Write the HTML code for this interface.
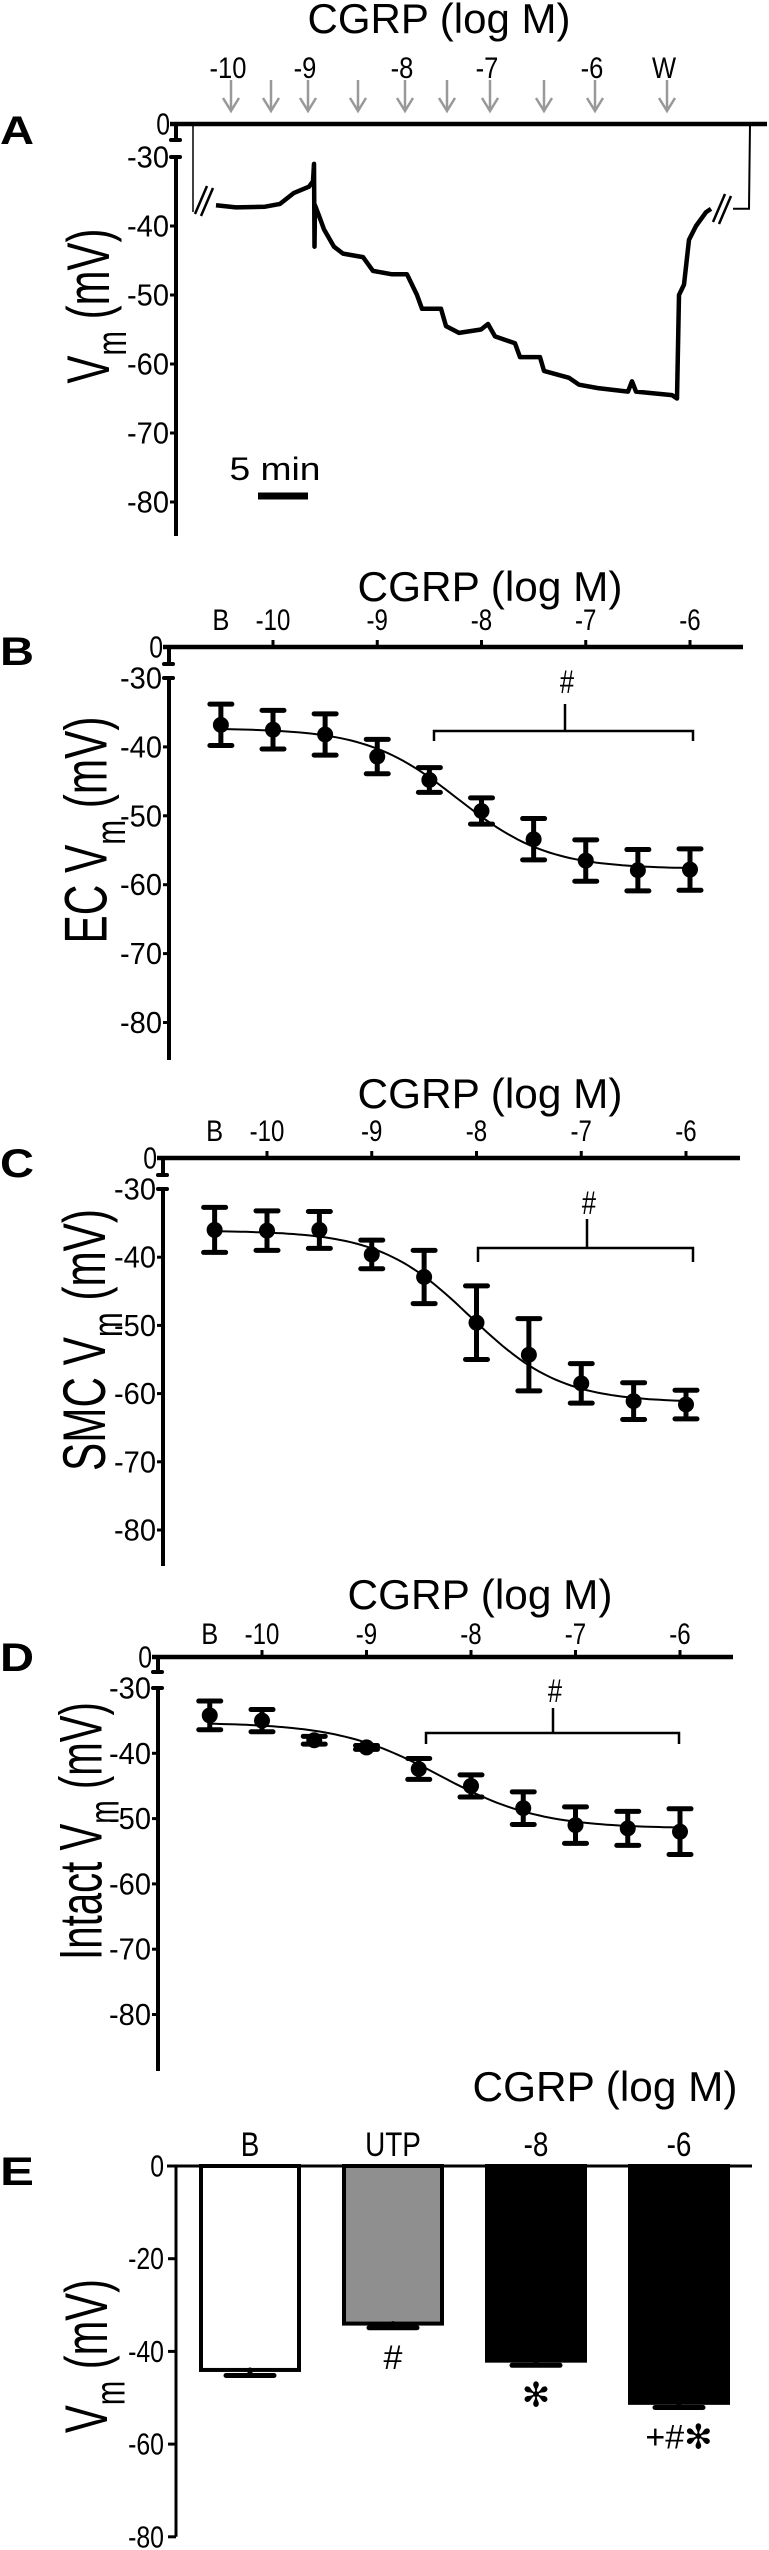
<!DOCTYPE html>
<html><head><meta charset="utf-8"><title>CGRP membrane potential</title>
<style>
html,body{margin:0;padding:0;background:#fff;}
svg{display:block;font-family:"Liberation Sans",Arial,sans-serif;}
</style></head>
<body>
<svg id="fig" xmlns="http://www.w3.org/2000/svg" width="769" height="2550" viewBox="0 0 769 2550">
<rect x="0" y="0" width="769" height="2550" fill="#fff"/>
</svg>
<script>
// ---------- DATA ----------
const traceTimes = [0,2,4.9,6.4,7.8,9.3,9.7,9.8,9.85,9.9,10.3,10.8,11.8,12.7,14.7,15.7,17.6,19.1,20.1,20.6,22.5,23.0,24.3,26.5,27.2,27.9,29.9,30.4,32.4,32.8,35.3,36.3,38.2,41.2,41.6,42.0,45.6,46.1,46.3,46.8,47.3,48.0,49.0,49.5];
const traceValues = [-37,-37.3,-37.2,-36.8,-35.2,-34.3,-33.5,-31,-43,-37,-38.5,-40.5,-43,-44,-44.5,-46.5,-47,-47,-50,-52,-52,-54.5,-55.5,-55,-54.2,-56,-57,-59,-59,-61,-62,-63,-63.5,-64,-62.5,-64,-64.5,-65,-50,-48.5,-42,-40,-38,-37.5];
const arrowTimes = [1.5,5.5,9.2,14.2,18.9,23.1,27.4,32.8,37.9,45.1];
const arrowLabels = ["-10","","-9","","-8","","-7","","-6","W"];
const yTicksA = [-30,-40,-50,-60,-70,-80];

const doseLogs = [-10.5,-10,-9.5,-9,-8.5,-8,-7.5,-7,-6.5,-6];
const xTickLogs = [-10,-9,-8,-7,-6];
const xTickLabels = ["-10","-9","-8","-7","-6"];
const ecMeans = [-36.8,-37.5,-38.2,-41.4,-44.8,-49.3,-53.4,-56.5,-57.9,-57.8];
const ecErrs = [3.0,2.8,3.0,2.5,1.8,1.9,3.0,3.0,3.0,3.0];
const smcMeans = [-36.0,-36.1,-36.0,-39.6,-42.9,-49.6,-54.3,-58.5,-61.1,-61.6];
const smcErrs = [3.3,2.9,2.7,2.1,3.9,5.4,5.3,2.9,2.7,2.1];
const intMeans = [-34.2,-35.0,-38.0,-39.1,-42.4,-45.0,-48.4,-51.0,-51.5,-52.0];
const intErrs = [2.2,1.7,0.6,0.3,1.6,1.7,2.5,2.8,2.6,3.5];
const fitTop = [-37.3,-36.1,-35.3];
const fitBottom = [-57.7,-61.3,-51.5];
const fitEC50 = [-8.23,-8.06,-8.3];
const fitHill = [1.0,1.0,0.9];
const yTicksCR = [-30,-40,-50,-60,-70,-80];

const eCategories = ["B","UTP","-8","-6"];
const eValues = [-44.0,-34.0,-42.0,-51.1];
const eErrors = [1.2,0.9,1.0,1.0];
const eSig = ["","#","✻","+#✻"];
const yTicksE = [0,-20,-40,-60,-80];

// ---------- helpers ----------
const NS = "http://www.w3.org/2000/svg";
const svg = document.getElementById('fig');
function mk(tag, attrs, parent){
  const e = document.createElementNS(NS, tag);
  for (const k in attrs) e.setAttribute(k, attrs[k]);
  (parent||svg).appendChild(e);
  return e;
}
function txt(str, attrs, parent){
  const e = mk('text', attrs, parent);
  e.textContent = str;
  return e;
}
function narrow(e, f){
  const L = e.getComputedTextLength();
  if (L > 0) { e.setAttribute('textLength', (L * f).toFixed(1)); e.setAttribute('lengthAdjust', 'spacingAndGlyphs'); }
  return e;
}
function group(name){
  const g = mk('g', {});
  
  
  return g;
}
function yLabel(g, cx, cy, len, prefix){
  const t = mk('text', {x:0, y:0, 'font-size':60, 'text-anchor':'middle', 'dominant-baseline':'central'}, g);
  
  
  t.appendChild(document.createTextNode(prefix + 'V'));
  const s = document.createElementNS(NS, 'tspan');
  s.setAttribute('font-size', '42');
  s.setAttribute('baseline-shift', 'sub');
  s.textContent = 'm';
  t.appendChild(s);
  t.appendChild(document.createTextNode('\u00a0(mV)'));
  const L = t.getComputedTextLength() || len;
  t.setAttribute('transform', 'translate(' + cx + ',' + cy + ') rotate(-90) scale(' + (len / L) + ',1)');
  return t;
}
function panelLetter(g, ch, y){
  const t = txt(ch, {x:0, y:y, 'font-size':40, 'font-weight':'bold', textLength:34, lengthAdjust:'spacingAndGlyphs'}, g);
  
  
}
function title(g, x, y, w){
  const t = txt('CGRP (log M)', {x:x, y:y, 'font-size':42, 'text-anchor':'middle', textLength:w, lengthAdjust:'spacingAndGlyphs'}, g);
  
  
}
function brokenYAxis(g, ax, zeroY, segEnd, y30, px10, bottom, ticks, topEnd){
  const top = mk('line', {x1:ax-6, y1:zeroY, x2:topEnd, y2:zeroY, stroke:'#000', 'stroke-width':4.5}, g);
  
  
  const seg = mk('line', {x1:ax, y1:zeroY, x2:ax, y2:segEnd, stroke:'#000', 'stroke-width':4}, g);
  
  
  mk('line', {x1:ax-5, y1:segEnd, x2:ax+4, y2:segEnd, stroke:'#000', 'stroke-width':4, 'stroke-linecap':'round'}, g);
  const main = mk('line', {x1:ax, y1:y30, x2:ax, y2:bottom, stroke:'#000', 'stroke-width':4}, g);
  
  
  mk('line', {x1:ax-5, y1:y30, x2:ax+4, y2:y30, stroke:'#000', 'stroke-width':4, 'stroke-linecap':'round'}, g);
  const z = txt('0', {x:ax-6, y:zeroY, 'font-size':31, 'text-anchor':'end', 'dominant-baseline':'central'}, g);
  
  
  narrow(z, 0.8);
  const yOf = v => y30 + (-30 - v) * px10 / 10;
  ticks.forEach(v => {
    const y = yOf(v);
    mk('line', {x1:ax-6, y1:y, x2:ax, y2:y, stroke:'#000', 'stroke-width':3}, g);
    const l = txt(String(v), {x:ax-7, y:y, 'font-size':31, 'text-anchor':'end', 'dominant-baseline':'central', textLength:42, lengthAdjust:'spacingAndGlyphs'}, g);
    
    
  });
  return yOf;
}

// ---------- PANEL A ----------
(function(){
  const g = group('panel-a-trace');
  panelLetter(g, 'A', 144);
  title(g, 439, 33, 263);
  const ax = 176;
  const yOf = brokenYAxis(g, ax, 124, 140, 157, 69, 536, yTicksA, 767);
  const xOf = t => 216 + t * 10;
  arrowTimes.forEach((t, i) => {
    const x = xOf(t);
    const a = mk('path', {d:'M' + x + ',80 L' + x + ',111 M' + (x-8) + ',98 L' + x + ',111 L' + (x+8) + ',98', stroke:'#999', 'stroke-width':2.5, fill:'none'}, g);
    
    
    if (arrowLabels[i]) {
      const l = txt(arrowLabels[i], {x:x - 3, y:78, 'font-size':30, 'text-anchor':'middle'}, g);
      
      
      narrow(l, 0.85);
    }
  });
  mk('path', {d:'M193,124 L193,212', stroke:'#000', 'stroke-width':1.5, fill:'none'}, g);
  mk('path', {d:'M195,214 L207,186 M201,216 L213,188', stroke:'#000', 'stroke-width':2.5, fill:'none'}, g);
  let d = '';
  traceTimes.forEach((t, i) => { d += (i ? 'L' : 'M') + xOf(t).toFixed(1) + ',' + yOf(traceValues[i]).toFixed(1) + ' '; });
  const tr = mk('path', {d:d, stroke:'#000', 'stroke-width':4.5, fill:'none', 'stroke-linejoin':'round'}, g);
  
  
  const endX = xOf(traceTimes[traceTimes.length-1]);
  mk('path', {d:'M' + (endX+2) + ',222 L' + (endX+14) + ',194 M' + (endX+8) + ',224 L' + (endX+20) + ',196', stroke:'#000', 'stroke-width':2.5, fill:'none'}, g);
  mk('path', {d:'M733,' + yOf(-37.5) + ' L749,' + yOf(-37.5) + ' L750,124 L765,125', stroke:'#000', 'stroke-width':2, fill:'none'}, g);
  const sb = mk('line', {x1:xOf(4.2), y1:496, x2:xOf(9.2), y2:496, stroke:'#000', 'stroke-width':7}, g);
  
  
  const st = txt('5 min', {x:275, y:480, 'font-size':32, 'text-anchor':'middle', textLength:91, lengthAdjust:'spacingAndGlyphs'}, g);
  
  
  yLabel(g, 88, 306, 155, '');
})();

// ---------- PANELS B-D ----------
function crPanel(idx, cfg, means, errs){
  const g = group(cfg.name);
  panelLetter(g, cfg.letter, cfg.letterY);
  title(g, cfg.titleX, cfg.titleY, 265);
  const yOf = brokenYAxis(g, cfg.ax, cfg.zeroY, cfg.segEnd, cfg.y30, cfg.px10, cfg.bottom, yTicksCR, cfg.topEnd);
  const xOf = lg => cfg.x10 + (lg + 10) * cfg.pxLog;
  xTickLogs.forEach((lg, i) => {
    const x = xOf(lg);
    mk('line', {x1:x, y1:cfg.zeroY - 7, x2:x, y2:cfg.zeroY, stroke:'#000', 'stroke-width':3}, g);
    const l = txt(xTickLabels[i], {x:x, y:cfg.tickY, 'font-size':30, 'text-anchor':'middle'}, g);
    
    
    narrow(l, 0.8);
  });
  const bl = txt('B', {x:xOf(doseLogs[0]), y:cfg.tickY, 'font-size':30, 'text-anchor':'middle'}, g);
  
  
  narrow(bl, 0.85);
  let d = '';
  for (let k = 0; k <= 90; k++) {
    const lg = doseLogs[0] + (doseLogs[doseLogs.length-1] - doseLogs[0]) * k / 90;
    const v = fitTop[idx] + (fitBottom[idx] - fitTop[idx]) / (1 + Math.pow(10, (fitEC50[idx] - lg) * fitHill[idx]));
    d += (k ? 'L' : 'M') + xOf(lg).toFixed(1) + ',' + yOf(v).toFixed(1) + ' ';
  }
  const fc = mk('path', {d:d, stroke:'#000', 'stroke-width':2, fill:'none'}, g);
  
  
  doseLogs.forEach((lg, i) => {
    const x = xOf(lg), y1 = yOf(means[i] + errs[i]), y2 = yOf(means[i] - errs[i]);
    const eb = mk('path', {d:'M' + x + ',' + y1 + ' L' + x + ',' + y2 + ' M' + (x-11) + ',' + y1 + ' L' + (x+11) + ',' + y1 + ' M' + (x-11) + ',' + y2 + ' L' + (x+11) + ',' + y2, stroke:'#000', 'stroke-width':5, fill:'none', 'stroke-linecap':'round'}, g);
    
    
    const c = mk('circle', {cx:x, cy:yOf(means[i]), r:8, fill:'#000'}, g);
    
    
  });
  const b = cfg.br;
  const br = mk('path', {d:'M' + b.x1 + ',' + b.yEnd + ' L' + b.x1 + ',' + b.y + ' L' + b.x2 + ',' + b.y + ' L' + b.x2 + ',' + b.yEnd + ' M' + b.cx + ',' + b.y + ' L' + b.cx + ',' + b.cTop, stroke:'#000', 'stroke-width':2.5, fill:'none'}, g);
  
  
  const h = txt('#', {x:b.cx + 2, y:b.hashY, 'font-size':32, 'text-anchor':'middle', 'dominant-baseline':'central'}, g);
  
  
  narrow(h, 0.8);
  yLabel(g, cfg.ylx, cfg.yly, cfg.ylen, cfg.prefix);
}
crPanel(0, {name:'panel-b-ec', letter:'B', letterY:665, titleX:490, titleY:601, ax:169, zeroY:647, segEnd:664, y30:678, px10:68.9, bottom:1060, x10:273, pxLog:104.25, topEnd:743, tickY:630,
  br:{x1:434, x2:693, y:731, yEnd:741, cx:565, cTop:704, hashY:682}, ylx:87, yly:830, ylen:227, prefix:'EC '}, ecMeans, ecErrs);
crPanel(1, {name:'panel-c-smc', letter:'C', letterY:1177, titleX:490, titleY:1108, ax:163, zeroY:1158, segEnd:1175, y30:1189, px10:68.2, bottom:1566, x10:267, pxLog:104.75, topEnd:740, tickY:1141,
  br:{x1:478, x2:693, y:1248, yEnd:1262, cx:587, cTop:1219, hashY:1203}, ylx:84, yly:1340, ylen:262, prefix:'SMC '}, smcMeans, smcErrs);
crPanel(2, {name:'panel-d-intact', letter:'D', letterY:1671, titleX:480, titleY:1609, ax:158, zeroY:1657, segEnd:1672, y30:1688, px10:65.3, bottom:2071, x10:262, pxLog:104.5, topEnd:733, tickY:1644,
  br:{x1:426, x2:679, y:1733, yEnd:1744, cx:553, cTop:1708, hashY:1691}, ylx:81, yly:1831, ylen:258, prefix:'Intact '}, intMeans, intErrs);

// ---------- PANEL E ----------
(function(){
  const g = group('panel-e-bars');
  panelLetter(g, 'E', 2185);
  title(g, 605, 2101, 265);
  const ax = 176, zeroY = 2166, pxPerMv = 4.635;
  const yOf = v => zeroY + (-v) * pxPerMv;
  const axl = mk('line', {x1:ax, y1:zeroY, x2:ax, y2:yOf(-80), stroke:'#000', 'stroke-width':3}, g);
  
  
  yTicksE.forEach(v => {
    const y = yOf(v);
    mk('line', {x1:ax-8, y1:y, x2:ax, y2:y, stroke:'#000', 'stroke-width':3}, g);
    const l = txt(String(v), {x:ax-12, y:y, 'font-size':31, 'text-anchor':'end', 'dominant-baseline':'central'}, g);
    
    
    narrow(l, 0.8);
  });
  const fills = ['#fff','#8f8f8f','#000','#000'];
  const x0 = 250, step = 143, bw = 98;
  eCategories.forEach((cat, i) => {
    const cx = x0 + i * step;
    const yb = yOf(eValues[i]);
    const r = mk('rect', {x:cx - bw/2, y:zeroY, width:bw, height:yb - zeroY, fill:fills[i], stroke:'#000', 'stroke-width':4}, g);
    
    
    const ye = yOf(eValues[i] - eErrors[i]);
    const eb = mk('path', {d:'M' + cx + ',' + yb + ' L' + cx + ',' + ye + ' M' + (cx-24) + ',' + ye + ' L' + (cx+24) + ',' + ye, stroke:'#000', 'stroke-width':5, fill:'none', 'stroke-linecap':'round'}, g);
    
    
    const l = txt(cat, {x:cx, y:2156, 'font-size':34, 'text-anchor':'middle'}, g);
    
    
    narrow(l, 0.82);
    if (eSig[i]) {
      const s = txt(eSig[i], {x:cx, y:ye + 30, 'font-size':34, 'text-anchor':'middle', 'dominant-baseline':'central', 'font-family':'"Liberation Sans","DejaVu Sans",sans-serif'}, g);
      
      
    }
  });
  const zl = mk('line', {x1:167, y1:zeroY, x2:752, y2:zeroY, stroke:'#000', 'stroke-width':3}, g);
  
  
  yLabel(g, 86, 2356, 154, '');
})();
</script>
</body></html>
